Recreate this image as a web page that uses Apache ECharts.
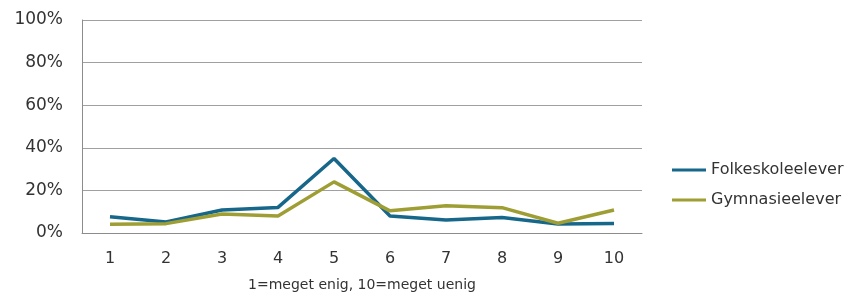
<!DOCTYPE html>
<html>
<head>
<meta charset="utf-8">
<script src="https://cdn.jsdelivr.net/npm/echarts@6/dist/echarts.min.js"></script>
<style>
  html, body { margin: 0; padding: 0; background: #fff; }
  #chart { width: 860px; height: 293px; }
</style>
</head>
<body>
<div id="chart"></div>
<script>
// skala 1-10
var categories = ['1', '2', '3', '4', '5', '6', '7', '8', '9', '10'];
var folkeskole = [7.6, 5.2, 10.8, 12.0, 35.0, 8.0, 6.1, 7.3, 4.2, 4.5];
var gymnasie = [4.1, 4.4, 8.9, 8.0, 24.0, 10.4, 12.8, 11.9, 4.6, 10.8];
var yTicks = [0, 20, 40, 60, 80, 100];

var font = 'DejaVu Sans, Verdana, sans-serif';
var myChart = echarts.init(document.getElementById('chart'));
myChart.setOption({
  animation: false,
  grid: {
    left: 82,
    right: 218,
    top: 20,
    bottom: 60,
    containLabel: false,
    outerBoundsMode: 'none'
  },
  legend: {
    orient: 'vertical',
    left: 667,
    top: 157,
    itemWidth: 34,
    itemHeight: 3,
    itemGap: 14,
    icon: 'rect',
    textStyle: { fontFamily: font, fontSize: 16, color: '#333' },
    data: ['Folkeskoleelever', 'Gymnasieelever']
  },
  xAxis: {
    type: 'category',
    data: categories,
    boundaryGap: true,
    name: '1=meget enig, 10=meget uenig',
    nameLocation: 'middle',
    nameGap: 45,
    nameTextStyle: { fontFamily: font, fontSize: 14, color: '#333' },
    axisLine: { lineStyle: { color: '#8c8c8c', width: 1 } },
    axisTick: { show: false },
    axisLabel: { fontFamily: font, fontSize: 16, color: '#333', margin: 18 }
  },
  yAxis: {
    type: 'value',
    min: yTicks[0],
    max: yTicks[yTicks.length - 1],
    interval: 20,
    axisLine: { show: true, lineStyle: { color: '#8c8c8c', width: 1 } },
    axisTick: { show: false },
    axisLabel: {
      fontFamily: font, fontSize: 17, color: '#333', margin: 19,
      formatter: function (v) { return v + '%'; }
    },
    splitLine: { lineStyle: { color: '#a0a0a0', width: 1 } }
  },
  series: [
    {
      name: 'Folkeskoleelever',
      type: 'line',
      data: folkeskole,
      symbol: 'none',
      color: '#17678a',
      lineStyle: { width: 3.5 }
    },
    {
      name: 'Gymnasieelever',
      type: 'line',
      data: gymnasie,
      symbol: 'none',
      color: '#9e9e35',
      lineStyle: { width: 3.5 }
    }
  ]
});
</script>
</body>
</html>
